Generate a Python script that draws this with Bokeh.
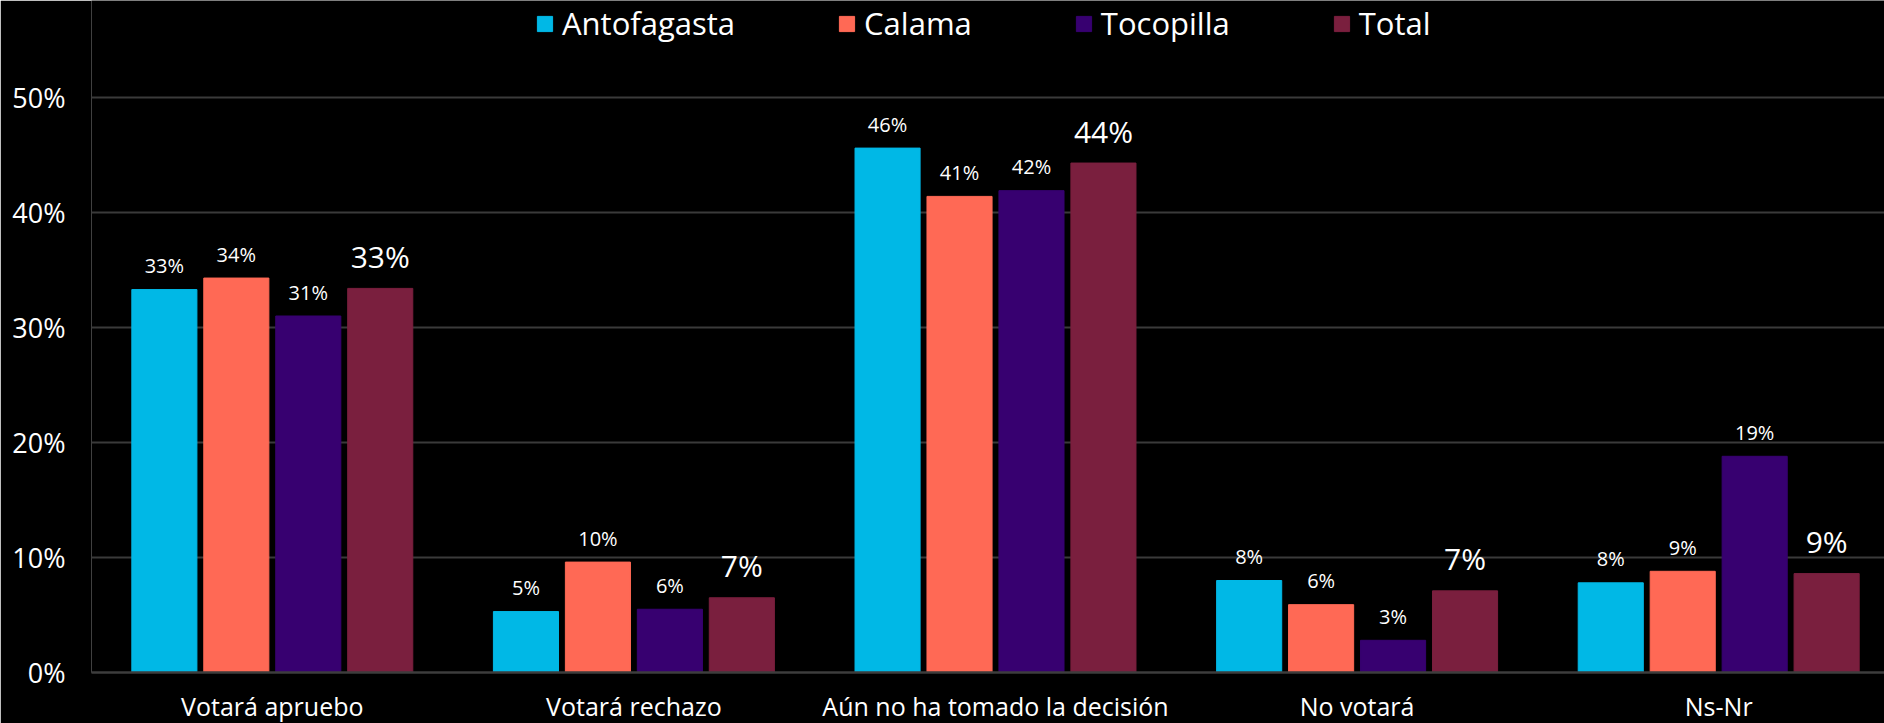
from bokeh.plotting import figure
from bokeh.models import Range1d, FixedTicker, Legend, LegendItem, ColumnDataSource
from bokeh.core.properties import value
from bokeh.embed import file_html
from bokeh.resources import INLINE

# ---------------- data ----------------
categories = ["Votará apruebo", "Votará rechazo", "Aún no ha tomado la decisión", "No votará", "Ns-Nr"]
series = ["Antofagasta", "Calama", "Tocopilla", "Total"]

antofagasta = [33.3, 5.3, 45.6, 8.0, 7.8]
calama = [34.3, 9.6, 41.4, 5.9, 8.8]
tocopilla = [31.0, 5.5, 41.9, 2.8, 18.8]
total = [33.4, 6.5, 44.3, 7.1, 8.6]

labels_antofagasta = ["33%", "5%", "46%", "8%", "8%"]
labels_calama = ["34%", "10%", "41%", "6%", "9%"]
labels_tocopilla = ["31%", "6%", "42%", "3%", "19%"]
labels_total = ["33%", "7%", "44%", "7%", "9%"]

y_ticks = [0, 10, 20, 30, 40, 50]
y_tick_labels = ["0%", "10%", "20%", "30%", "40%", "50%"]

# ---------------- style ----------------
colors = ["#00B8E6", "#FF6955", "#370070", "#7A1F3E"]
FONT = "Open Sans"
FRAME_W, FRAME_H = 1793, 672
CAT_PX = 361.6      # pixels per category
PCT_PX = 11.5       # pixels per percentage point
BAR_STEP = 0.199
BAR_W = 0.18

values = [antofagasta, calama, tocopilla, total]
labels = [labels_antofagasta, labels_calama, labels_tocopilla, labels_total]

p = figure(
    frame_width=FRAME_W, frame_height=FRAME_H,
    x_range=Range1d(0, FRAME_W / CAT_PX), y_range=Range1d(0, FRAME_H / PCT_PX),
    output_backend="svg", toolbar_location=None,
    min_border_left=91, min_border_top=0, min_border_right=0, min_border_bottom=51,
    background_fill_color="#000000", border_fill_color="#000000",
    outline_line_color=None,
)

renderers = []
for j, name in enumerate(series):
    xs = [i + 0.5 + (j - 1.5) * BAR_STEP for i in range(len(categories))]
    src = ColumnDataSource(dict(x=xs, top=values[j], label=labels[j]))
    r = p.vbar(x="x", top="top", bottom=0, width=BAR_W, source=src,
               fill_color=colors[j], line_color=colors[j], line_width=1)
    renderers.append(r)
    big = (name == "Total")
    p.text(x="x", y="top", text="label", source=src,
           text_align="center", text_baseline="middle",
           y_offset=-32 if big else -24,
           text_font=value(FONT), text_font_size="30px" if big else "20px",
           text_color="#FFFFFF")

legend = Legend(
    items=[LegendItem(label=s, renderers=[r]) for s, r in zip(series, renderers)],
    orientation="horizontal", location=(444, 628),
    glyph_width=19, glyph_height=19, label_standoff=8, spacing=102,
    padding=0, margin=0, border_line_color=None, background_fill_alpha=0,
    label_text_font=FONT, label_text_font_size="31px", label_text_color="#FFFFFF",
)
p.add_layout(legend, "center")

# x axis
p.xaxis.ticker = FixedTicker(ticks=[i + 0.5 for i in range(len(categories))])
p.xaxis.major_label_overrides = {i + 0.5: c for i, c in enumerate(categories)}
p.xaxis.major_tick_line_color = None
p.xaxis.minor_tick_line_color = None
p.xaxis.major_tick_out = 0
p.xaxis.major_tick_in = 0
p.xaxis.axis_line_color = "#3d3d3d"
p.xaxis.axis_line_width = 2.5
p.xaxis.major_label_text_color = "#FFFFFF"
p.xaxis.major_label_text_font = FONT
p.xaxis.major_label_text_font_size = "25px"
p.xaxis.major_label_standoff = 16

# y axis
p.yaxis.ticker = FixedTicker(ticks=y_ticks)
p.yaxis.major_label_overrides = {t: l for t, l in zip(y_ticks, y_tick_labels)}
p.yaxis.axis_line_color = None
p.yaxis.major_tick_line_color = None
p.yaxis.minor_tick_line_color = None
p.yaxis.major_tick_out = 0
p.yaxis.major_tick_in = 0
p.yaxis.major_label_text_color = "#FFFFFF"
p.yaxis.major_label_text_font = FONT
p.yaxis.major_label_text_font_size = "27px"
p.yaxis.major_label_standoff = 26

p.xgrid.visible = False
p.ygrid.ticker = FixedTicker(ticks=y_ticks[1:])
p.ygrid.grid_line_color = "#3a3a3a"
p.ygrid.grid_line_width = 2

with open("out.html", "w", encoding="utf-8") as f:
    f.write(file_html(p, INLINE, title="Chart"))
